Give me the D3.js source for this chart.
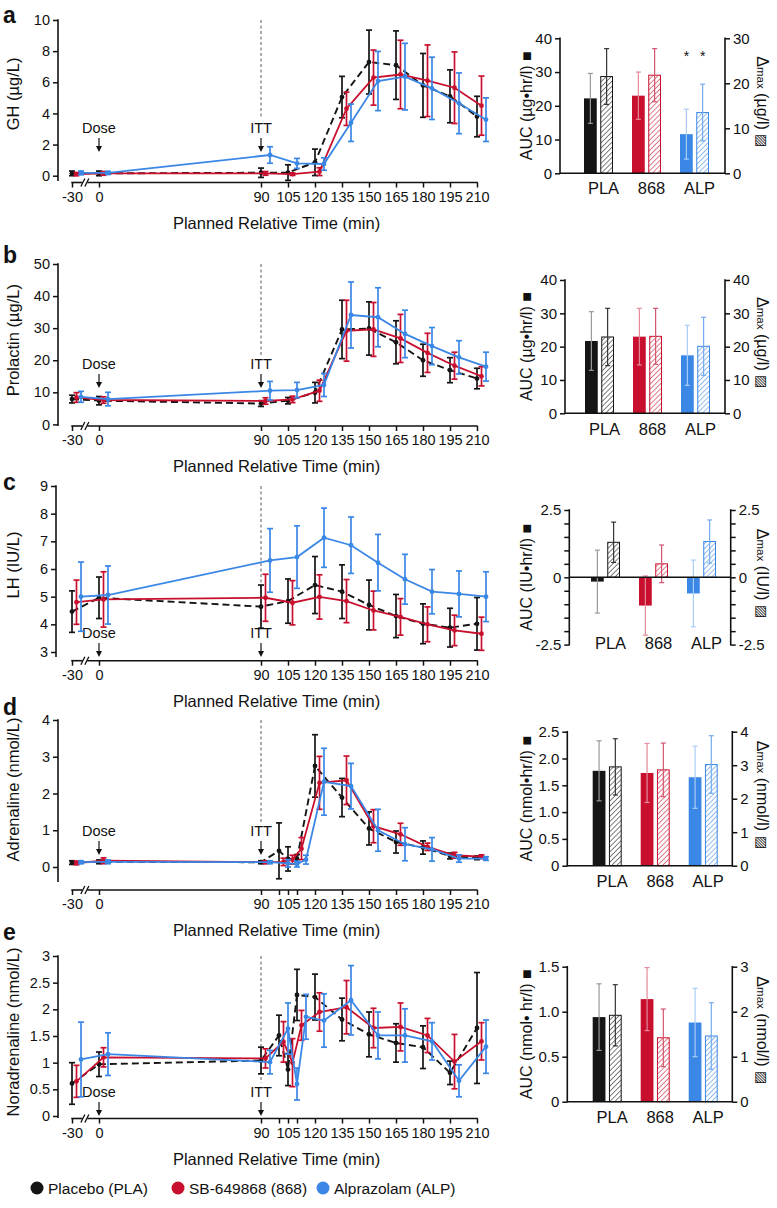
<!DOCTYPE html>
<html><head><meta charset="utf-8">
<script src="https://cdnjs.cloudflare.com/ajax/libs/d3/7.8.5/d3.min.js"></script>
<style>
body{margin:0;background:#fff}
svg{display:block}
text{font-family:"Liberation Sans",Arial,Helvetica,sans-serif;fill:#111}
</style></head>
<body><svg id="chart" width="777" height="1208"></svg>
<script>
// ---------------- DATA ----------------
const timesStd = [-30,0,90,105,120,135,150,165,180,195,210];
const timesExt = [-30,0,90,100,105,110,120,135,150,165,180,195,210];
const xTickLabels = [-30,0,90,105,120,135,150,165,180,195,210];
const xMinorTicks = [100,110];
const groups = ["PLA","868","ALP"];
const seriesNames = ["Placebo (PLA)","SB-649868 (868)","Alprazolam (ALP)"];
const colors = ["#151515","#c8102e","#3a87e6"];
const solidErrColors = ["#9a9a9a","#e58a9b","#a9cdf6"];
const hatchErrColors = ["#333333","#d2556e","#76abee"];

// Panel a: GH
const ghPLA = [0.15,0.15,0.19,0.2,0.86,5.05,7.3,7.1,5.8,5.1,3.8];
const ghPLAerr = [0.15,0.15,0.3,0.5,0.85,1.33,2.05,2.2,2.05,1.7,1.3];
const ghSB = [0.1,0.15,0.15,0.1,0.26,4.3,6.3,6.5,6.1,5.65,4.5];
const ghSBerr = [0.1,0.12,0.12,0.08,0.25,1.07,1.77,2.2,2.3,2.3,1.9];
const ghALP = [0.18,0.18,1.33,0.79,0.75,3.4,6.08,6.36,5.61,4.65,3.6];
const ghALPerr = [0.12,0.1,0.53,0.32,0.4,1.2,1.9,2.14,2.0,1.95,1.4];
const ghAUC = [22.2,23.0,11.6], ghAUCerr = [7.4,7.0,7.4];
const ghDmax = [21.5,21.8,13.5], ghDmaxErr = [6.2,5.9,6.3];

// Panel b: Prolactin
const prlPLA = [7.9,7.4,6.5,7.4,9.9,29.6,29.9,25.6,20.0,16.9,14.3];
const prlPLAerr = [1.2,1.3,0.9,1.0,3.2,9.1,8.3,6.7,5.0,3.9,3.2];
const prlSB = [8.4,7.6,7.3,7.8,10.5,29.2,29.6,26.8,22.3,18.3,15.0];
const prlSBerr = [1.5,1.0,1.0,1.0,3.3,9.5,8.4,7.5,6.1,4.2,3.0];
const prlALP = [8.6,7.9,10.5,10.7,12.3,34.1,33.4,28.2,24.4,20.9,18.0];
const prlALPerr = [1.7,2.1,2.9,2.4,3.6,10.3,9.2,7.4,5.8,5.2,4.5];
const prlAUC = [21.7,23.0,17.4], prlAUCerr = [8.8,8.5,9.0];
const prlDmax = [22.9,23.1,20.1], prlDmaxErr = [8.6,8.4,8.7];

// Panel c: LH
const lhPLA = [4.46,4.96,4.64,4.84,5.42,5.18,4.7,4.3,4.02,3.88,4.02];
const lhPLAerr = [0.75,0.75,0.78,0.8,1.03,0.97,0.9,0.78,0.72,0.7,0.95];
const lhSB = [4.8,4.9,4.96,4.78,4.99,4.84,4.5,4.27,4.0,3.78,3.66];
const lhSBerr = [0.8,1.0,0.85,0.8,0.8,0.78,0.7,0.66,0.63,0.55,0.6];
const lhALP = [5.0,5.06,6.31,6.43,7.13,6.86,6.23,5.63,5.18,5.1,5.0];
const lhALPerr = [1.25,1.05,1.15,1.13,1.07,1.02,1.02,0.9,0.8,0.83,0.9];
const lhAUC = [-0.16,-1.05,-0.6], lhAUCerr = [1.17,1.1,1.24];
const lhDmax = [1.3,0.5,1.33], lhDmaxErr = [0.75,0.7,0.8];

// Panel d: Adrenaline
const adrPLA = [0.12,0.14,0.13,0.44,0.22,0.22,2.75,1.89,1.05,0.68,0.53,0.3,0.25];
const adrPLAerr = [0.05,0.05,0.04,0.76,0.33,0.12,0.85,0.52,0.45,0.3,0.18,0.08,0.05];
const adrSB = [0.11,0.17,0.13,0.14,0.2,0.5,2.29,2.36,1.11,0.89,0.55,0.32,0.28];
const adrSBerr = [0.05,0.08,0.04,0.1,0.12,0.3,0.72,0.66,0.45,0.3,0.1,0.08,0.05];
const adrALP = [0.13,0.14,0.13,0.1,0.08,0.2,2.32,2.2,1.0,0.62,0.48,0.23,0.23];
const adrALPerr = [0.04,0.05,0.04,0.1,0.08,0.12,0.91,0.62,0.57,0.45,0.32,0.1,0.05];
const adrAUC = [1.77,1.73,1.65], adrAUCerr = [0.56,0.55,0.58];
const adrDmax = [2.95,2.86,3.02], adrDmaxErr = [0.84,0.8,0.86];

// Panel e: Noradrenaline
const noraPLA = [0.61,0.97,1.04,1.51,0.87,2.27,2.23,1.81,1.53,1.37,1.29,0.81,1.65];
const noraPLAerr = [0.39,0.23,0.25,0.38,0.3,0.48,0.43,0.4,0.42,0.36,0.4,0.22,1.04];
const noraSB = [0.65,1.1,1.08,1.39,1.0,1.7,1.95,2.04,1.65,1.67,1.51,1.02,1.4];
const noraSBerr = [0.3,0.18,0.18,0.38,0.45,0.28,0.36,0.5,0.37,0.45,0.32,0.51,0.35];
const noraALP = [1.06,1.16,1.01,1.64,0.6,1.86,1.79,2.17,1.51,1.51,1.4,0.66,1.3];
const noraALPerr = [0.7,0.4,0.22,0.48,0.3,0.42,0.5,0.65,0.44,0.5,0.35,0.3,0.5];
const noraAUC = [0.94,1.14,0.88], noraAUCerr = [0.37,0.35,0.38];
const noraDmax = [1.92,1.42,1.46], noraDmaxErr = [0.68,0.64,0.74];

// ---------------- DRAWING ----------------
const svg = d3.select("#chart");
const defs = svg.append("defs");
colors.forEach((c,i)=>{
  const p = defs.append("pattern").attr("id","hatch"+i).attr("patternUnits","userSpaceOnUse")
    .attr("width",3.6).attr("height",3.6).attr("patternTransform","rotate(45)");
  p.append("rect").attr("width",3.6).attr("height",3.6).attr("fill","#fff");
  p.append("line").attr("x1",0).attr("x2",0).attr("y1",0).attr("y2",3.6).attr("stroke",c).attr("stroke-width",1.1);
});

// compressed pre-dose segment (axis break): -30 min sits one 15-min step left of 0
const tx = t => t < 0 ? t/2 : t;
const x = d3.scaleLinear().domain([-15,210]).range([72,477]);
const dodge = [0,4.5,9];
const hy = s => String(s).replace("\u2212","-");

function drawLinePanel(cfg){
  const g = svg.append("g");
  const y = d3.scaleLinear().domain(cfg.domain).range([cfg.yBottom,cfg.yTop]);
  const ya = d3.axisLeft(y).tickValues(cfg.ticks).tickSize(5).tickPadding(3)
    .tickFormat(cfg.fmt || (d=>d));
  const yg = g.append("g").attr("transform",`translate(${cfg.yAxisX},0)`).call(ya);
  yg.select(".domain").remove();
  yg.selectAll(".tick line").attr("stroke","#111").attr("stroke-width",1.5);
  yg.selectAll("text").style("font-size","14.5px").attr("fill","#111");
  yg.append("line").attr("x1",0).attr("x2",0).attr("y1",y(cfg.domain[1])-0.75).attr("y2",cfg.yAxisEnd)
    .attr("stroke","#111").attr("stroke-width",1.6);
  const xa = d3.axisBottom(x).tickValues(xTickLabels.map(tx)).tickSize(5).tickPadding(4)
    .tickFormat(d => d < 0 ? "-" + (-d*2) : d);
  const xg = g.append("g").attr("transform",`translate(0,${cfg.xAxisY})`).call(xa);
  xg.select(".domain").remove();
  xg.selectAll(".tick line").attr("stroke","#111").attr("stroke-width",1.5);
  xg.selectAll("text").style("font-size","14.5px").attr("fill","#111");
  if(cfg.minor){
    const xm = g.append("g").attr("transform",`translate(0,${cfg.xAxisY})`)
      .call(d3.axisBottom(x).tickValues(xMinorTicks).tickSize(5).tickFormat(""));
    xm.select(".domain").remove();
    xm.selectAll(".tick line").attr("stroke","#111").attr("stroke-width",1.5);
  }
  const xb0 = x(-15), xb1 = x(0);
  const br = xb0 + (xb1-xb0)*0.42;
  g.append("line").attr("x1",xb0-0.75).attr("x2",br-1).attr("y1",cfg.xAxisY).attr("y2",cfg.xAxisY).attr("stroke","#111").attr("stroke-width",1.6);
  g.append("line").attr("x1",br+4).attr("x2",x(210)+0.75).attr("y1",cfg.xAxisY).attr("y2",cfg.xAxisY).attr("stroke","#111").attr("stroke-width",1.6);
  [br-0.5,br+3.5].forEach(bx=>{
    g.append("line").attr("x1",bx-2).attr("x2",bx+2).attr("y1",cfg.xAxisY+4).attr("y2",cfg.xAxisY-4).attr("stroke","#111").attr("stroke-width",1.3);
  });
  g.append("text").attr("x",(x(-15)+x(210))/2+2).attr("y",cfg.xAxisY+46).attr("text-anchor","middle")
    .style("font-size","16.5px").text("Planned Relative Time (min)");
  g.append("text").attr("transform",`translate(${cfg.titleX},${(cfg.yTop+cfg.yBottom)/2-4}) rotate(-90)`)
    .attr("text-anchor","middle").style("font-size","16.5px").text(cfg.yTitle);
  g.append("text").attr("x",3).attr("y",cfg.letterY).style("font-size","23px").style("font-weight","bold").text(cfg.letter);
  g.append("line").attr("x1",x(90)).attr("x2",x(90)).attr("y1",cfg.yTop).attr("y2",cfg.annY-9)
    .attr("stroke","#777").attr("stroke-width",1.2).attr("stroke-dasharray","3,2.5");
  [["Dose",0],["ITT",90]].forEach(([lab,t])=>{
    const ax = x(tx(t));
    g.append("text").attr("x",ax).attr("y",cfg.annY+5).attr("text-anchor","middle").style("font-size","14.5px").text(lab);
    g.append("line").attr("x1",ax).attr("x2",ax).attr("y1",cfg.annY+10).attr("y2",cfg.annY+22).attr("stroke","#111").attr("stroke-width",1.2);
    g.append("path").attr("d",`M${ax-3},${cfg.annY+18} L${ax+3},${cfg.annY+18} L${ax},${cfg.annY+24} Z`).attr("fill","#111");
  });
  [0,1,2].forEach(si=>{
    const vals = cfg.series[si], errs = cfg.errs[si];
    const pts = cfg.times.map((t,i)=>({px:x(tx(t))+dodge[si], v:vals[i], e:errs[i]}));
    const line = d3.line().x(d=>d.px).y(d=>y(d.v));
    g.append("path").datum(pts).attr("d",line).attr("fill","none").attr("stroke",colors[si])
      .attr("stroke-width",si===0?1.9:1.8).attr("stroke-dasharray",si===0?"7,4":null);
    const eg = g.append("g").attr("stroke",colors[si]).attr("stroke-width",1.7);
    pts.forEach(d=>{
      eg.append("line").attr("x1",d.px).attr("x2",d.px).attr("y1",y(d.v-d.e)).attr("y2",y(d.v+d.e));
      eg.append("line").attr("x1",d.px-3).attr("x2",d.px+3).attr("y1",y(d.v-d.e)).attr("y2",y(d.v-d.e));
      eg.append("line").attr("x1",d.px-3).attr("x2",d.px+3).attr("y1",y(d.v+d.e)).attr("y2",y(d.v+d.e));
    });
    g.append("g").selectAll("circle").data(pts).join("circle").attr("cx",d=>d.px).attr("cy",d=>y(d.v))
      .attr("r",2.4).attr("fill",colors[si]);
  });
}

function drawBarPanel(cfg){
  const g = svg.append("g");
  const yL = d3.scaleLinear().domain(cfg.leftDomain).range([cfg.yBottom,cfg.yTop]);
  const yR = d3.scaleLinear().domain(cfg.rightDomain).range([cfg.yBottom,cfg.yTop]);
  const xb = d3.scaleBand().domain(groups).range([cfg.x0,cfg.x0+125]).paddingInner(19/48);
  const xs = d3.scaleBand().domain(["auc","dmax"]).range([0,xb.bandwidth()]).paddingInner(0.215);
  const zeroY = yL(0);
  groups.forEach((gr,i)=>{
    const bx = xb(gr);
    const va = cfg.auc[i], ea = cfg.aucErr[i];
    g.append("rect").attr("x",bx+xs("auc")).attr("width",xs.bandwidth())
      .attr("y",Math.min(yL(va),zeroY)).attr("height",Math.abs(yL(va)-zeroY)).attr("fill",colors[i]);
    const vd = cfg.dmax[i], ed = cfg.dmaxErr[i];
    g.append("rect").attr("x",bx+xs("dmax")+0.5).attr("width",xs.bandwidth()-1)
      .attr("y",Math.min(yR(vd),zeroY)).attr("height",Math.abs(yR(vd)-zeroY))
      .attr("fill",`url(#hatch${i})`).attr("stroke",colors[i]).attr("stroke-width",1);
    const ex1 = bx+xs("auc")+xs.bandwidth()/2, ex2 = bx+xs("dmax")+xs.bandwidth()/2;
    [[ex1,yL(va-ea),yL(va+ea),solidErrColors[i]],[ex2,yR(vd-ed),yR(vd+ed),hatchErrColors[i]]].forEach(([ex,y1,y2,c])=>{
      g.append("line").attr("x1",ex).attr("x2",ex).attr("y1",y1).attr("y2",y2).attr("stroke",c).attr("stroke-width",1.2);
      g.append("line").attr("x1",ex-2.5).attr("x2",ex+2.5).attr("y1",y1).attr("y2",y1).attr("stroke",c).attr("stroke-width",1.2);
      g.append("line").attr("x1",ex-2.5).attr("x2",ex+2.5).attr("y1",y2).attr("y2",y2).attr("stroke",c).attr("stroke-width",1.2);
    });
    g.append("text").attr("x",bx+xb.bandwidth()/2+5).attr("y",cfg.labelY).attr("text-anchor","middle")
      .style("font-size","16.5px").text(gr);
    if(cfg.stars && cfg.stars[i]){
      [ex1,ex2].forEach(ex=>g.append("text").attr("x",ex).attr("y",yL(cfg.starV)+6).attr("text-anchor","middle")
        .style("font-size","14px").attr("fill","#888").text("*"));
    }
  });
  g.append("line").attr("x1",cfg.leftX).attr("x2",cfg.rightX).attr("y1",zeroY).attr("y2",zeroY).attr("stroke","#111").attr("stroke-width",1.6);
  const la = d3.axisLeft(yL).tickValues(cfg.leftTicks).tickSize(5).tickPadding(3).tickFormat(cfg.leftFmt);
  const lg = g.append("g").attr("transform",`translate(${cfg.leftX},0)`).call(la);
  lg.select(".domain").remove();
  lg.append("line").attr("y1",cfg.yTop-0.75).attr("y2",cfg.yBottom+0.75).attr("stroke","#111").attr("stroke-width",1.6);
  const ra = d3.axisRight(yR).tickValues(cfg.rightTicks).tickSize(5).tickPadding(3).tickFormat(cfg.rightFmt);
  const rg = g.append("g").attr("transform",`translate(${cfg.rightX},0)`).call(ra);
  rg.select(".domain").remove();
  rg.append("line").attr("y1",cfg.yTop-0.75).attr("y2",cfg.yBottom+0.75).attr("stroke","#111").attr("stroke-width",1.6);
  [lg,rg].forEach(a=>{
    a.selectAll(".tick line").attr("stroke","#111").attr("stroke-width",1.5);
    a.selectAll("text").style("font-size","15px").attr("fill","#111");
  });
  const cy = (cfg.yTop+cfg.yBottom)/2;
  const lt = g.append("text").attr("transform",`translate(532,${cy}) rotate(-90)`).attr("text-anchor","middle").style("font-size","16px");
  lt.append("tspan").text(cfg.leftTitle+" ");
  lt.append("tspan").text("\u25A0");
  const rt = g.append("text").attr("transform",`translate(757,${cy-4}) rotate(90)`).attr("text-anchor","middle").style("font-size","16px");
  rt.append("tspan").text("\u0394");
  rt.append("tspan").style("font-size","11.5px").text("max");
  rt.append("tspan").text(" " + cfg.rightUnit + " ");
  rt.append("tspan").style("font-size","14px").text("\u25A8");
}

const fmt1 = d => d===0 ? "0" : hy(d3.format(".1f")(d));

drawLinePanel({letter:"a",letterY:23,domain:[0,10],ticks:[0,2,4,6,8,10],yTop:20,yBottom:175.7,yAxisEnd:181,
  yAxisX:58,xAxisY:182.5,titleX:19,yTitle:"GH (\u00B5g/L)",annY:128,times:timesStd,
  series:[ghPLA,ghSB,ghALP],errs:[ghPLAerr,ghSBerr,ghALPerr]});
drawLinePanel({letter:"b",letterY:263,domain:[0,50],ticks:[0,10,20,30,40,50],yTop:264,yBottom:424.4,yAxisEnd:426,
  yAxisX:58,xAxisY:426,titleX:19,yTitle:"Prolactin (\u00B5g/L)",annY:364,times:timesStd,
  series:[prlPLA,prlSB,prlALP],errs:[prlPLAerr,prlSBerr,prlALPerr]});
drawLinePanel({letter:"c",letterY:490,domain:[3,9],ticks:[3,4,5,6,7,8,9],yTop:486,yBottom:652,yAxisEnd:657,
  yAxisX:56,xAxisY:660.7,titleX:19,yTitle:"LH (IU/L)",annY:633,times:timesStd,
  series:[lhPLA,lhSB,lhALP],errs:[lhPLAerr,lhSBerr,lhALPerr]});
drawLinePanel({letter:"d",letterY:715,domain:[0,4],ticks:[0,1,2,3,4],yTop:720,yBottom:867,yAxisEnd:882,
  yAxisX:58,xAxisY:890,titleX:19,yTitle:"Adrenaline (nmol/L)",annY:831,times:timesExt,minor:true,
  series:[adrPLA,adrSB,adrALP],errs:[adrPLAerr,adrSBerr,adrALPerr]});
drawLinePanel({letter:"e",letterY:940,domain:[0,3],ticks:[0,0.5,1,1.5,2,2.5,3],yTop:956,yBottom:1116,yAxisEnd:1118,
  yAxisX:58,xAxisY:1118.5,titleX:19,yTitle:"Noradrenaline (nmol/L)",annY:1092,times:timesExt,minor:true,
  series:[noraPLA,noraSB,noraALP],errs:[noraPLAerr,noraSBerr,noraALPerr]});

drawBarPanel({leftX:560,rightX:725,x0:584,yTop:38.3,yBottom:173.3,leftDomain:[0,40],rightDomain:[0,30],
  leftTicks:[0,10,20,30,40],rightTicks:[0,10,20,30],leftFmt:d=>d,rightFmt:d=>d,labelY:194,
  auc:ghAUC,aucErr:ghAUCerr,dmax:ghDmax,dmaxErr:ghDmaxErr,stars:[false,false,true],starV:35,
  leftTitle:"AUC (\u00B5g\u2022hr/l)",rightUnit:"(\u00B5g/l)"});
drawBarPanel({leftX:565,rightX:725,x0:585,yTop:280,yBottom:413.3,leftDomain:[0,40],rightDomain:[0,40],
  leftTicks:[0,10,20,30,40],rightTicks:[0,10,20,30,40],leftFmt:d=>d,rightFmt:d=>d,labelY:434.5,
  auc:prlAUC,aucErr:prlAUCerr,dmax:prlDmax,dmaxErr:prlDmaxErr,
  leftTitle:"AUC (\u00B5g\u2022hr/l)",rightUnit:"(\u00B5g/l)"});
const lhTicks = d3.range(-2.5,2.51,0.5);
const lhFmt = d => (Math.abs(d)===2.5 || d===0) ? (d===0?"0":hy(d3.format(".1f")(d))) : "";
drawBarPanel({leftX:569.3,rightX:730.7,x0:591,yTop:510,yBottom:644.6,leftDomain:[-2.5,2.5],rightDomain:[-2.5,2.5],
  leftTicks:lhTicks,rightTicks:lhTicks,leftFmt:lhFmt,rightFmt:lhFmt,labelY:649,
  auc:lhAUC,aucErr:lhAUCerr,dmax:lhDmax,dmaxErr:lhDmaxErr,
  leftTitle:"AUC (IU\u2022hr/l)",rightUnit:"(IU/l)"});
drawBarPanel({leftX:567.3,rightX:732.3,x0:592.7,yTop:731.7,yBottom:865.7,leftDomain:[0,2.5],rightDomain:[0,4],
  leftTicks:[0,0.5,1,1.5,2,2.5],rightTicks:[0,1,2,3,4],leftFmt:fmt1,rightFmt:d=>d,labelY:886.5,
  auc:adrAUC,aucErr:adrAUCerr,dmax:adrDmax,dmaxErr:adrDmaxErr,
  leftTitle:"AUC (nmol\u2022hr/l)",rightUnit:"(nmol/l)"});
drawBarPanel({leftX:567.3,rightX:732.3,x0:592.7,yTop:966.7,yBottom:1101.7,leftDomain:[0,1.5],rightDomain:[0,3],
  leftTicks:[0,0.5,1,1.5],rightTicks:[0,1,2,3],leftFmt:fmt1,rightFmt:d=>d,labelY:1122.5,
  auc:noraAUC,aucErr:noraAUCerr,dmax:noraDmax,dmaxErr:noraDmaxErr,
  leftTitle:"AUC (nmol\u2022 hr/l)",rightUnit:"(nmol/l)"});

const legX = [37,178,323];
const lg = svg.append("g");
seriesNames.forEach((n,i)=>{
  lg.append("circle").attr("cx",legX[i]).attr("cy",1188).attr("r",6.5).attr("fill",colors[i]);
  lg.append("text").attr("x",legX[i]+11).attr("y",1193.5).style("font-size","15.5px").text(n);
});
</script></body></html>
